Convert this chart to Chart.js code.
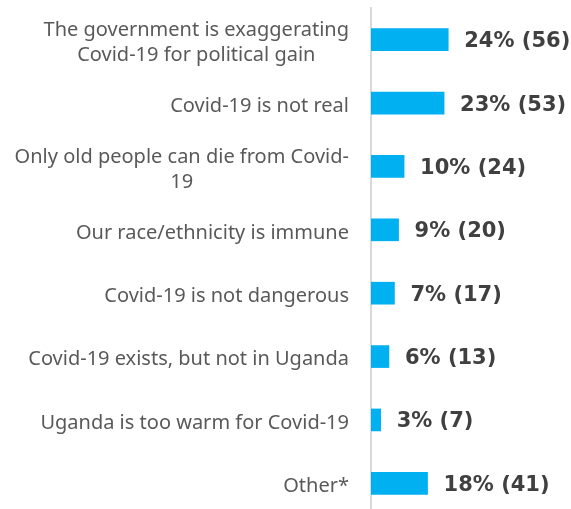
<!DOCTYPE html>
<html>
<head>
<meta charset="utf-8">
<script src="https://cdn.jsdelivr.net/npm/chart.js@4"></script>
<style>
    html, body { margin: 0; padding: 0; background: #fff; overflow: hidden; }
    #wrap { position: relative; width: 571px; height: 515px; }
</style>
</head>
<body>
<div id="wrap"><canvas id="chart"></canvas></div>
<script>
    // Reasons given for believing Covid-19 claims
    const categories = [
        ["The government is exaggerating", "Covid-19 for political gain"],
        "Covid-19 is not real",
        ["Only old people can die from Covid-", "19"],
        "Our race/ethnicity is immune",
        "Covid-19 is not dangerous",
        "Covid-19 exists, but not in Uganda",
        "Uganda is too warm for Covid-19",
        "Other*"
    ];
    const percents = [24, 23, 10, 9, 7, 6, 3, 18];
    const counts = [56, 53, 24, 20, 17, 13, 7, 41];

    const barColour = '#00B0F0';
    const labelFont = '20px "Noto Sans", Tahoma, sans-serif';
    const valueFont = 'bold 21px "DejaVu Sans", Verdana, sans-serif';

    // category labels: block right-aligned, lines centred within the block
    const categoryLabels = {
        id: 'categoryLabels',
        afterDraw(chart) {
            const ctx = chart.ctx;
            const yScale = chart.scales.y;
            const right = 349;
            const lineHeight = 25;
            ctx.save();
            ctx.font = labelFont;
            ctx.fillStyle = '#595959';
            ctx.textAlign = 'center';
            ctx.textBaseline = 'middle';
            categories.forEach((cat, i) => {
                const lines = Array.isArray(cat) ? cat : [cat];
                const widest = Math.max(...lines.map(l => ctx.measureText(l).width));
                const cx = right - widest / 2;
                const cy = yScale.getPixelForValue(i);
                const top = cy - (lines.length - 1) * lineHeight / 2 + 3;
                lines.forEach((l, j) => ctx.fillText(l, cx, top + j * lineHeight));
            });
            ctx.restore();
        }
    };

    const valueLabels = {
        id: 'valueLabels',
        afterDatasetsDraw(chart) {
            const ctx = chart.ctx;
            const meta = chart.getDatasetMeta(0);
            ctx.save();
            ctx.font = valueFont;
            ctx.fillStyle = '#404040';
            ctx.textAlign = 'left';
            ctx.textBaseline = 'middle';
            meta.data.forEach((bar, i) => {
                ctx.fillText(percents[i] + '% (' + counts[i] + ')', bar.x + 16, bar.y + 2);
            });
            ctx.restore();
        }
    };

    new Chart(document.getElementById('chart'), {
        type: 'bar',
        data: {
            labels: categories,
            datasets: [{
                data: counts,
                backgroundColor: barColour,
                borderWidth: 0,
                barThickness: 22
            }]
        },
        options: {
            indexAxis: 'y',
            responsive: true,
            maintainAspectRatio: false,
            animation: false,
            layout: { padding: { top: 8, right: 0, bottom: 0, left: 0 } },
            plugins: {
                legend: { display: false },
                tooltip: { enabled: false }
            },
            scales: {
                x: {
                    display: false,
                    min: 0,
                    max: 145
                },
                y: {
                    ticks: { display: false },
                    grid: { display: false, drawTicks: false },
                    border: { display: true, color: '#D9D9D9', width: 2 },
                    afterFit(scale) { scale.width = 371; }
                }
            }
        },
        plugins: [categoryLabels, valueLabels]
    });
</script>
</body>
</html>
